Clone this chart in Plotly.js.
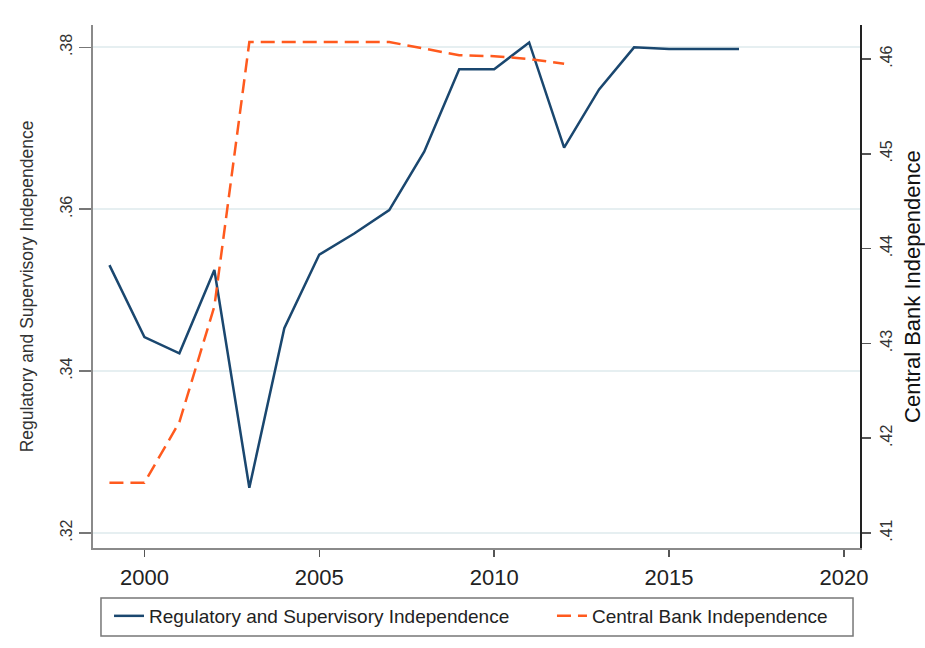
<!DOCTYPE html>
<html>
<head>
<meta charset="utf-8">
<script src="https://cdn.plot.ly/plotly-3.0.1.min.js"></script>
<style>
  html, body { margin: 0; padding: 0; background: #fff; }
  #chart { width: 925px; height: 648px; }
</style>
</head>
<body>
<div id="chart"></div>
<script>
// values
const years = [1999, 2000, 2001, 2002, 2003, 2004, 2005, 2006, 2007, 2008,
  2009, 2010, 2011, 2012, 2013, 2014, 2015, 2016, 2017];
const regSupInd = [0.3531, 0.3442, 0.3422, 0.3525, 0.3256, 0.3453, 0.3544, 0.3570, 0.3599, 0.3671,
  0.3773, 0.3773, 0.3806, 0.3676, 0.3748, 0.3800, 0.3798, 0.3798, 0.3798];

const cbiYears = [1999, 2000, 2001, 2002, 2003, 2004, 2005, 2006, 2007, 2008, 2009, 2010, 2011, 2012];
const centralBankInd = [0.4153, 0.4153, 0.4217, 0.4339, 0.4618, 0.4618, 0.4618, 0.4618, 0.4618, 0.4611,
  0.4604, 0.4603, 0.4600, 0.4595];

const xTicks = [2000, 2005, 2010, 2015, 2020];
const leftTicks = [0.32, 0.34, 0.36, 0.38];
const leftTickText = [".32", ".34", ".36", ".38"];
const rightTicks = [0.41, 0.42, 0.43, 0.44, 0.45, 0.46];
const rightTickText = [".41", ".42", ".43", ".44", ".45", ".46"];

const FONT = "Liberation Sans, Arial, sans-serif";

var trace1 = {
  x: years,
  y: regSupInd,
  name: "Regulatory and Supervisory Independence",
  type: "scatter",
  mode: "lines",
  line: { color: "#1a476f", width: 2.5 },
  yaxis: "y",
  legend: "legend"
};

var trace2 = {
  x: cbiYears,
  y: centralBankInd,
  name: "Central Bank Independence",
  type: "scatter",
  mode: "lines",
  line: { color: "#ff5a1e", width: 2.5, dash: "14px,7px" },
  yaxis: "y2",
  legend: "legend2"
};

// two single-item legends so each entry sits where the reference has it
var legendBase = {
  orientation: "h",
  yanchor: "middle",
  y: -0.130,
  xanchor: "left",
  font: { size: 19, color: "#222" },
  itemwidth: 30,
  bgcolor: "rgba(0,0,0,0)"
};

var layout = {
  width: 925,
  height: 648,
  margin: { l: 93, r: 65, t: 25, b: 100 },
  paper_bgcolor: "#fff",
  plot_bgcolor: "#fff",
  font: { family: FONT, color: "#222" },
  showlegend: true,
  legend: Object.assign({}, legendBase, { x: 0.0209 }),
  legend2: Object.assign({}, legendBase, { x: 0.5984 }),
  xaxis: {
    range: [1998.53, 2020.46],
    tickvals: xTicks,
    ticktext: xTicks.map(String),
    tickfont: { size: 22, color: "#222" },
    ticklabelstandoff: 2,
    showgrid: false,
    zeroline: false,
    showline: true,
    linecolor: "#8a8a8a",
    linewidth: 2,
    ticks: "outside",
    ticklen: 7,
    tickcolor: "#555",
    tickwidth: 1.5
  },
  yaxis: {
    range: [0.31815, 0.38276],
    tickvals: leftTicks,
    ticktext: leftTickText,
    tickangle: -90,
    tickfont: { size: 16, color: "#333" },
    showgrid: true,
    gridcolor: "#e6eff1",
    gridwidth: 2,
    zeroline: false,
    showline: true,
    linecolor: "#8a8a8a",
    linewidth: 2.5,
    ticks: "outside",
    ticklen: 12,
    tickcolor: "#777",
    tickwidth: 1.5,
    title: {
      text: "Regulatory and Supervisory Independence",
      font: { size: 17.5, color: "#333" },
      standoff: 20
    }
  },
  yaxis2: {
    overlaying: "y",
    side: "right",
    range: [0.40842, 0.46359],
    tickvals: rightTicks,
    ticktext: rightTickText,
    tickangle: -90,
    tickfont: { size: 16, color: "#333" },
    ticklabelstandoff: 2,
    showgrid: false,
    zeroline: false,
    showline: true,
    linecolor: "#222",
    linewidth: 2,
    ticks: "outside",
    ticklen: 9,
    tickcolor: "#555",
    tickwidth: 1.5,
    title: {
      text: "Central Bank Independence",
      font: { size: 22, color: "#111" },
      standoff: 10
    }
  },
  shapes: [
    {
      type: "rect",
      xref: "paper", yref: "paper",
      x0: 0.0104, x1: 0.9909,
      y0: -0.0956, y1: -0.1683,
      line: { color: "#777", width: 1.5 },
      fillcolor: "rgba(0,0,0,0)"
    }
  ]
};

Plotly.newPlot("chart", [trace1, trace2], layout, { displayModeBar: false, staticPlot: true });
</script>
</body>
</html>
